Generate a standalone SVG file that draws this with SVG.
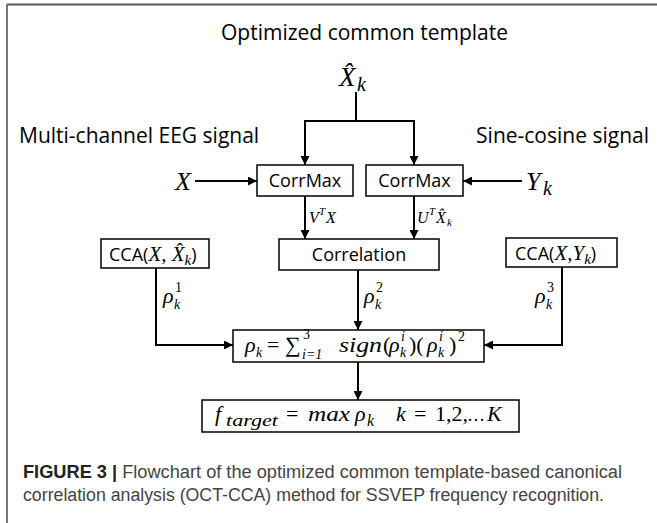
<svg xmlns="http://www.w3.org/2000/svg" width="657" height="523" viewBox="0 0 657 523">
<defs>
<style>
.lbl{font-family:"Open Sans","Liberation Sans",sans-serif;fill:#000}
.m{font-family:"Liberation Serif",serif;font-style:italic;fill:#000}
.mu{font-family:"Liberation Serif","DejaVu Serif",serif;fill:#000}
.big{font-size:22px}
.sm{font-size:14px}
.box{fill:#fff;stroke:#000;stroke-width:1.5}
.ln{fill:none;stroke:#000;stroke-width:2}
.cap{font-family:"Liberation Sans",Arial,sans-serif;font-size:18px;fill:#444}
</style>
<marker id="ah" viewBox="0 0 10 10" refX="10" refY="5" markerWidth="9" markerHeight="9" markerUnits="userSpaceOnUse" orient="auto">
<path d="M0,0 L10,5 L0,10 z" fill="#000"/>
</marker>
</defs>
<rect width="657" height="523" fill="#fff"/>
<g id="frame">
<line x1="7" y1="4.5" x2="657" y2="4.5" stroke="#555" stroke-width="2"/>
<line x1="7" y1="4" x2="7" y2="523" stroke="#777" stroke-width="2"/>
</g>
<g id="labels">
<text class="lbl" x="364.5" y="40" font-size="21" text-anchor="middle">Optimized common template</text>
<text class="lbl" x="19" y="143" font-size="21">Multi-channel EEG signal</text>
<text class="lbl" x="649" y="143" font-size="21" text-anchor="end">Sine-cosine signal</text>
</g>
<g id="xhat">
<text class="m" x="339" y="86" font-size="27">X̂</text>
<text class="m" x="357" y="91" font-size="20">k</text>
</g>
<g id="x-in"><text class="m" x="175" y="190" font-size="26">X</text></g>
<g id="yk-in">
<text class="m" x="526" y="190" font-size="26">Y</text>
<text class="m" x="543" y="195" font-size="20">k</text>
</g>
<g id="corrmax1">
<rect class="box" x="257" y="165" width="96" height="31"/>
<text class="lbl" x="305" y="187" font-size="18" text-anchor="middle">CorrMax</text>
</g>
<g id="corrmax2">
<rect class="box" x="366" y="165" width="97" height="31"/>
<text class="lbl" x="414.5" y="187" font-size="18" text-anchor="middle">CorrMax</text>
</g>
<g id="cca1">
<rect class="box" x="101" y="239" width="108" height="29"/>
<text x="109" y="261" font-size="18"><tspan class="lbl">CCA(</tspan><tspan class="m" font-size="21">X, X̂</tspan><tspan class="m" font-size="15" dy="4">k</tspan><tspan class="lbl" dy="-4">)</tspan></text>
</g>
<g id="correlation">
<rect class="box" x="279" y="239" width="160" height="31"/>
<text class="lbl" x="359" y="261" font-size="18" text-anchor="middle">Correlation</text>
</g>
<g id="cca2">
<rect class="box" x="506" y="238" width="111" height="29"/>
<text x="515" y="260" font-size="18"><tspan class="lbl">CCA(</tspan><tspan class="m" font-size="21">X,Y</tspan><tspan class="m" font-size="15" dy="4">k</tspan><tspan class="lbl" dy="-4">)</tspan></text>
</g>
<g id="formula">
<rect class="box" x="233" y="330" width="251" height="32"/>
<text class="m big" x="245" y="352">ρ</text>
<text class="m sm" x="256" y="357">k</text>
<text class="mu big" x="267" y="352">=</text>
<text class="mu big" x="285" y="352">∑</text>
<text class="m sm" x="302" y="359">i<tspan class="mu">=1</tspan></text>
<text class="mu sm" x="303" y="339">3</text>
<text class="m big" x="339" y="352" textLength="43" lengthAdjust="spacingAndGlyphs">sign</text>
<text class="mu big" x="383" y="352">(</text>
<text class="m big" x="389" y="352">ρ</text>
<text class="m sm" x="400" y="357">k</text>
<text class="m sm" x="401" y="341">i</text>
<text class="mu big" x="409" y="352">)(</text>
<text class="m big" x="427" y="352">ρ</text>
<text class="m sm" x="438" y="357">k</text>
<text class="m sm" x="439" y="341">i</text>
<text class="mu big" x="449" y="352">)</text>
<text class="mu sm" x="458" y="341">2</text>
</g>
<g id="target">
<rect class="box" x="202" y="400" width="317" height="32"/>
<text class="m big" x="215" y="421">f</text>
<text class="m" x="226" y="426" font-size="16" textLength="52" lengthAdjust="spacingAndGlyphs">target</text>
<text class="mu big" x="286" y="421">=</text>
<text class="m big" x="308" y="421" textLength="42" lengthAdjust="spacingAndGlyphs">max</text>
<text class="m big" x="355" y="421">ρ</text>
<text class="m" x="367" y="426" font-size="16">k</text>
<text class="m big" x="396" y="421">k</text>
<text class="mu big" x="414" y="421">=</text>
<text class="mu big" x="435" y="421">1,2,</text>
<text class="mu" x="467" y="421" font-size="18">…</text>
<text class="m big" x="487" y="421">K</text>
</g>
<g id="connectors">
<path class="ln" d="M356,92 V121"/>
<path class="ln" d="M305,165 V121 H414 V165" marker-end="url(#ah)"/>
<path class="ln" d="M305,122 V165" marker-end="url(#ah)"/>
<path class="ln" d="M195,181 H257" marker-end="url(#ah)"/>
<path class="ln" d="M522,181 H463" marker-end="url(#ah)"/>
<path class="ln" d="M305,196 V239" marker-end="url(#ah)"/>
<path class="ln" d="M414,196 V239" marker-end="url(#ah)"/>
<path class="ln" d="M156,268 V345 H233" marker-end="url(#ah)"/>
<path class="ln" d="M358,270 V330" marker-end="url(#ah)"/>
<path class="ln" d="M562,267 V345 H484" marker-end="url(#ah)"/>
<path class="ln" d="M358,362 V400" marker-end="url(#ah)"/>
</g>
<g id="edge-labels">
<text class="m" x="309" y="223" font-size="16">V</text>
<text class="m" x="319" y="215" font-size="11">T</text>
<text class="m" x="326" y="223" font-size="16">X</text>
<text class="m" x="417" y="223" font-size="16">U</text>
<text class="m" x="429" y="215" font-size="11">T</text>
<text class="m" x="436" y="223" font-size="16">X̂</text>
<text class="m" x="447" y="226" font-size="11">k</text>
<text class="m big" x="163" y="303">ρ</text>
<text class="m sm" x="174" y="309">k</text>
<text class="mu sm" x="175" y="292">1</text>
<text class="m big" x="364" y="303">ρ</text>
<text class="m sm" x="375" y="309">k</text>
<text class="mu sm" x="376" y="292">2</text>
<text class="m big" x="535" y="303">ρ</text>
<text class="m sm" x="546" y="309">k</text>
<text class="mu sm" x="547" y="292">3</text>
</g>
<g id="caption">
<text class="cap" x="23" y="478" textLength="599" lengthAdjust="spacingAndGlyphs"><tspan font-weight="bold" fill="#222">FIGURE 3 |</tspan> Flowchart of the optimized common template-based canonical</text>
<text class="cap" x="23" y="501" textLength="581" lengthAdjust="spacingAndGlyphs">correlation analysis (OCT-CCA) method for SSVEP frequency recognition.</text>
</g>
</svg>
